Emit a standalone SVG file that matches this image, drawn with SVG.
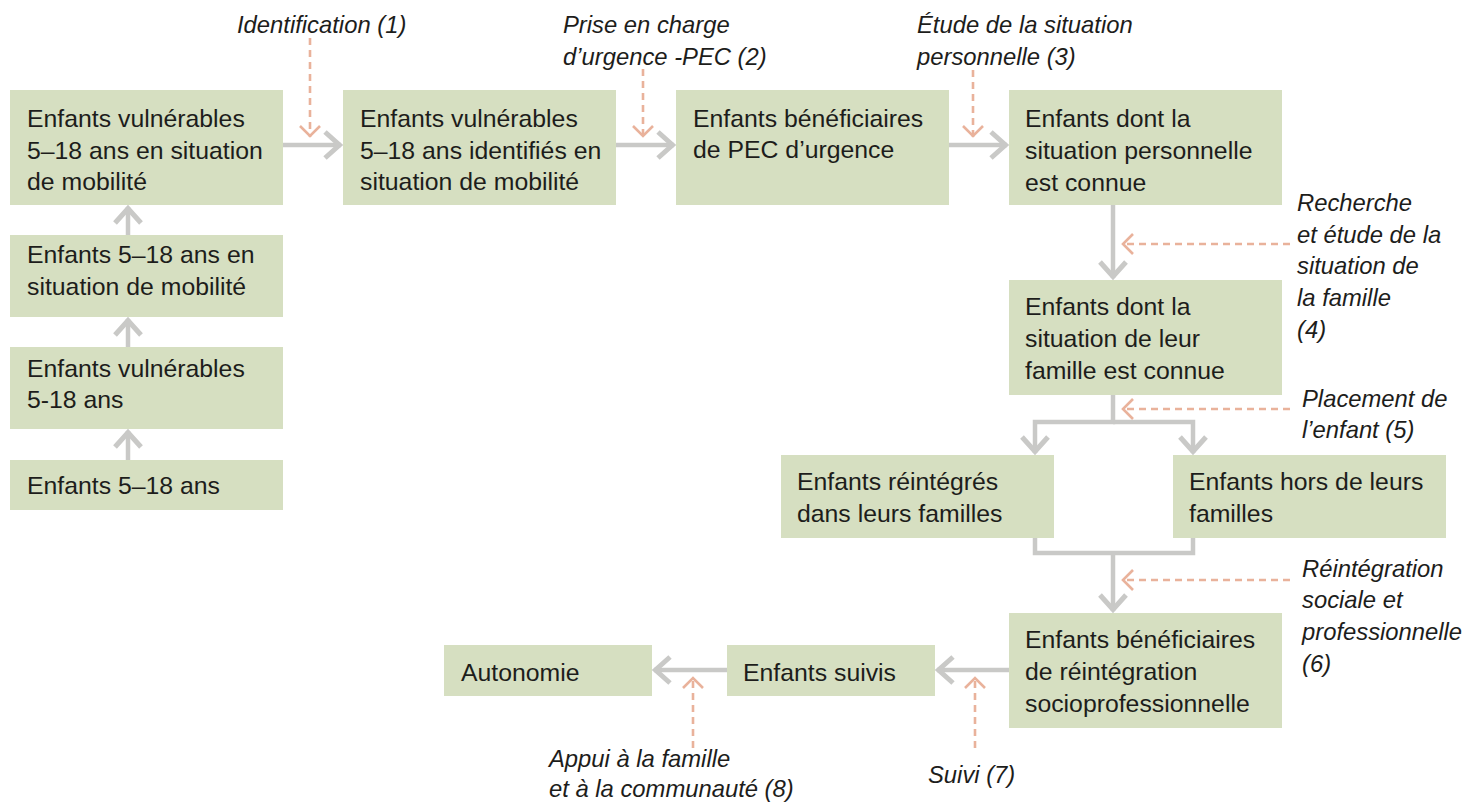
<svg xmlns="http://www.w3.org/2000/svg" width="1465" height="802" viewBox="0 0 1465 802">
<style>
.box{fill:#d6dfc1}
.t{font-family:"Liberation Sans",Arial,sans-serif;font-size:24.8px;fill:#1d1d1b}
.l{font-family:"Liberation Sans",Arial,sans-serif;font-size:23.8px;font-style:italic;fill:#1d1d1b}
.g{fill:none;stroke:#c9c9c7;stroke-width:4.5}
.d{fill:none;stroke:#e9b29b;stroke-width:2.6;stroke-dasharray:7 5}
</style>
<defs>
<marker id="ag" markerUnits="userSpaceOnUse" viewBox="-22 -18 26 36" refX="0" refY="0" markerWidth="26" markerHeight="36" orient="auto">
<path d="M-16,-13 L-1.5,0 L-16,13" fill="none" stroke="#c9c9c7" stroke-width="5"/>
</marker>
<marker id="ao" markerUnits="userSpaceOnUse" viewBox="-16 -14 20 28" refX="0" refY="0" markerWidth="20" markerHeight="28" orient="auto">
<path d="M-11,-10 L-1,0 L-11,10" fill="none" stroke="#e9b29b" stroke-width="2.6"/>
</marker>
</defs>

<g id="connectors">
<path class="g" d="M128,235 V207" marker-end="url(#ag)"/>
<path class="g" d="M128,347 V319" marker-end="url(#ag)"/>
<path class="g" d="M128,460 V431" marker-end="url(#ag)"/>
<path class="g" d="M283,145 H341" marker-end="url(#ag)"/>
<path class="g" d="M616,145 H674" marker-end="url(#ag)"/>
<path class="g" d="M949,145 H1007" marker-end="url(#ag)"/>
<path class="g" d="M1113,205 V278" marker-end="url(#ag)"/>
<path class="g" d="M1113,395 V422 H1035 V453" marker-end="url(#ag)"/>
<path class="g" d="M1113,422 H1193 V453" marker-end="url(#ag)"/>
<path class="g" d="M1035,538 V553 H1193 V538"/>
<path class="g" d="M1113,553 V611" marker-end="url(#ag)"/>
<path class="g" d="M1009,670 H937" marker-end="url(#ag)"/>
<path class="g" d="M727,670 H654" marker-end="url(#ag)"/>
<path class="d" d="M310,38 V137" marker-end="url(#ao)"/>
<path class="d" d="M643,69 V137" marker-end="url(#ao)"/>
<path class="d" d="M973,70 V137" marker-end="url(#ao)"/>
<path class="d" d="M1290,244 H1122" marker-end="url(#ao)"/>
<path class="d" d="M1290,409 H1122" marker-end="url(#ao)"/>
<path class="d" d="M1290,580 H1122" marker-end="url(#ao)"/>
<path class="d" d="M975,748 V677" marker-end="url(#ao)"/>
<path class="d" d="M693,748 V677" marker-end="url(#ao)"/>
</g>

<g id="n1"><rect class="box" x="10" y="90" width="273" height="115"/>
<text class="t" x="27" y="127">Enfants vulnérables</text>
<text class="t" x="27" y="159">5–18 ans en situation</text>
<text class="t" x="27" y="190">de mobilité</text></g>

<g id="n2"><rect class="box" x="10" y="235" width="273" height="82"/>
<text class="t" x="27" y="263">Enfants 5–18 ans en</text>
<text class="t" x="27" y="295">situation de mobilité</text></g>

<g id="n3"><rect class="box" x="10" y="347" width="273" height="82"/>
<text class="t" x="27" y="377">Enfants vulnérables</text>
<text class="t" x="27" y="408">5-18 ans</text></g>

<g id="n4"><rect class="box" x="10" y="460" width="273" height="50"/>
<text class="t" x="27" y="494">Enfants 5–18 ans</text></g>

<g id="n5"><rect class="box" x="343" y="90" width="273" height="115"/>
<text class="t" x="360" y="127">Enfants vulnérables</text>
<text class="t" x="360" y="159">5–18 ans identifiés en</text>
<text class="t" x="360" y="190">situation de mobilité</text></g>

<g id="n6"><rect class="box" x="676" y="90" width="273" height="115"/>
<text class="t" x="693" y="127">Enfants bénéficiaires</text>
<text class="t" x="693" y="158">de PEC d’urgence</text></g>

<g id="n7"><rect class="box" x="1009" y="90" width="273" height="115"/>
<text class="t" x="1025" y="127">Enfants dont la</text>
<text class="t" x="1025" y="159">situation personnelle</text>
<text class="t" x="1025" y="191">est connue</text></g>

<g id="n8"><rect class="box" x="1009" y="280" width="273" height="115"/>
<text class="t" x="1025" y="315">Enfants dont la</text>
<text class="t" x="1025" y="347">situation de leur</text>
<text class="t" x="1025" y="379">famille est connue</text></g>

<g id="n9"><rect class="box" x="781" y="455" width="273" height="83"/>
<text class="t" x="797" y="490">Enfants réintégrés</text>
<text class="t" x="797" y="522">dans leurs familles</text></g>

<g id="n10"><rect class="box" x="1173" y="455" width="273" height="83"/>
<text class="t" x="1189" y="490">Enfants hors de leurs</text>
<text class="t" x="1189" y="522">familles</text></g>

<g id="n11"><rect class="box" x="1009" y="613" width="273" height="115"/>
<text class="t" x="1025" y="648">Enfants bénéficiaires</text>
<text class="t" x="1025" y="680">de réintégration</text>
<text class="t" x="1025" y="712">socioprofessionnelle</text></g>

<g id="n12"><rect class="box" x="727" y="645" width="208" height="51"/>
<text class="t" x="743" y="681">Enfants suivis</text></g>

<g id="n13"><rect class="box" x="444" y="645" width="208" height="51"/>
<text class="t" x="461" y="681">Autonomie</text></g>

<g id="labels">
<text class="l" x="237" y="33">Identification (1)</text>
<text class="l" x="563" y="33">Prise en charge</text>
<text class="l" x="563" y="65">d’urgence -PEC (2)</text>
<text class="l" x="917" y="33">Étude de la situation</text>
<text class="l" x="917" y="65">personnelle (3)</text>
<text class="l" x="1297" y="211">Recherche</text>
<text class="l" x="1297" y="243">et étude de la</text>
<text class="l" x="1297" y="274">situation de</text>
<text class="l" x="1297" y="306">la famille</text>
<text class="l" x="1297" y="338">(4)</text>
<text class="l" x="1302" y="407">Placement de</text>
<text class="l" x="1302" y="438">l’enfant (5)</text>
<text class="l" x="1302" y="577">Réintégration</text>
<text class="l" x="1302" y="608">sociale et</text>
<text class="l" x="1302" y="640">professionnelle</text>
<text class="l" x="1302" y="672">(6)</text>
<text class="l" x="549" y="767">Appui à la famille</text>
<text class="l" x="549" y="797">et à la communauté (8)</text>
<text class="l" x="928" y="783">Suivi (7)</text>
</g>
</svg>
